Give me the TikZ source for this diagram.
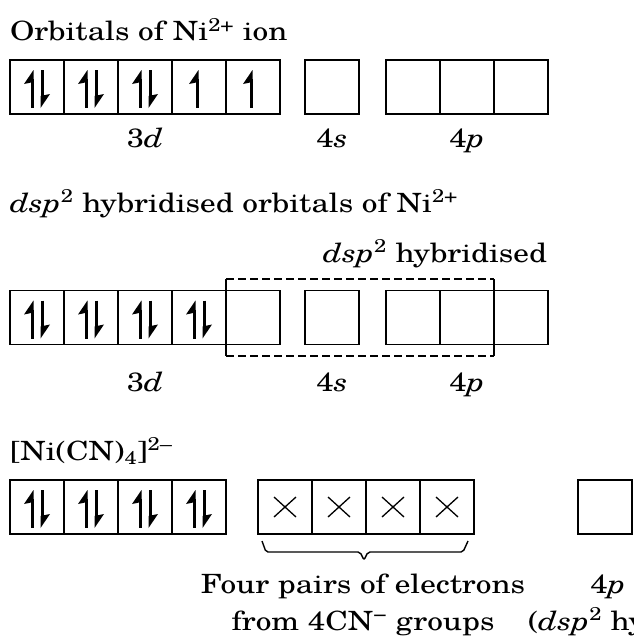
\documentclass[tikz,border=0pt]{standalone}
\usepackage{fontspec}
\setmainfont{TeX Gyre Schola}[FakeStretch=1.18]
\begin{document}
\begin{tikzpicture}[x=1pt,y=-1pt,
  orb/.style={draw, line width=1.5pt, minimum width=54pt, minimum height=54pt, inner sep=0pt, outer sep=0pt},
  lbl/.style={inner sep=0pt, outer sep=0pt, font=\fontsize{26.5}{31}\selectfont},
  uph/.pic={\draw[line width=3pt] (0,-9) -- (0,20); \fill (1.5,-18) -- (1.5,-6) -- (-8,-4) -- cycle;},
  dnh/.pic={\draw[line width=3pt] (0,-18) -- (0,11); \fill (-1.5,20) -- (-1.5,8) -- (8,6) -- cycle;},
  xm/.style={line width=1.3pt},
  dashbox/.style={line width=1.3pt, dash pattern=on 8pt off 4pt},
  brace/.style={line width=1.4pt, rounded corners=2pt}
]
\useasboundingbox (0,0) rectangle (633,642);
\clip (0,0) rectangle (633,642);

% ---------- Row 1 ----------
\node[lbl, anchor=base west] (t1) at (10,41) {Orbitals of Ni\textsuperscript{2+} ion};
\foreach \i/\cx in {1/37,2/91,3/145,4/199,5/253}{\node[orb] (ad\i) at (\cx,87) {};}
\node[orb] (as) at (332,87) {};
\foreach \i/\cx in {1/413,2/467,3/521}{\node[orb] (ap\i) at (\cx,87) {};}
\foreach \cx in {37,91,145}{\pic at (\cx-5,88) {uph}; \pic at (\cx+5,88) {dnh};}
\foreach \cx in {199,253}{\pic at (\cx-2,88) {uph};}
\node[lbl, anchor=base] (l1d) at (145,147) {3\textit{d}};
\node[lbl, anchor=base] (l1s) at (332,147) {4\textit{s}};
\node[lbl, anchor=base] (l1p) at (467,147) {4\textit{p}};

% ---------- Row 2 ----------
\node[lbl, anchor=base west] (t2) at (10,212) {\textit{dsp}\textsuperscript{2} hybridised orbitals of Ni\textsuperscript{2+}};
\node[lbl, anchor=base east] (h2) at (547,262) {\textit{dsp}\textsuperscript{2} hybridised};
\foreach \i/\cx in {1/37,2/91,3/145,4/199,5/253}{\node[orb] (bd\i) at (\cx,317.5) {};}
\node[orb] (bs) at (332,317.5) {};
\foreach \i/\cx in {1/413,2/467,3/521}{\node[orb] (bp\i) at (\cx,317.5) {};}
\foreach \cx in {37,91,145,199}{\pic at (\cx-5,318.5) {uph}; \pic at (\cx+5,318.5) {dnh};}
\coordinate (dA) at (226,279);
\coordinate (dB) at (494,279);
\coordinate (dC) at (494,356);
\coordinate (dD) at (226,356);
\draw[dashbox] (dA) -- (dB);
\draw[dashbox] (dD) -- (dC);
\draw[line width=1.3pt] (dA) -- (dD);
\draw[line width=1.3pt] (dB) -- (dC);
\node[lbl, anchor=base] (l2d) at (145,391) {3\textit{d}};
\node[lbl, anchor=base] (l2s) at (332,391) {4\textit{s}};
\node[lbl, anchor=base] (l2p) at (467,391) {4\textit{p}};

% ---------- Row 3 ----------
\node[lbl, anchor=base west] (t3) at (10,460) {[Ni(CN)\textsubscript{4}]\textsuperscript{2–}};
\foreach \i/\cx in {1/37,2/91,3/145,4/199}{\node[orb] (cd\i) at (\cx,507) {};}
\foreach \cx in {37,91,145,199}{\pic at (\cx-5,508) {uph}; \pic at (\cx+5,508) {dnh};}
\foreach \i/\cx in {1/285,2/339,3/393,4/447}{
  \node[orb] (cx\i) at (\cx,507) {};
  \draw[xm] (\cx-11,497) -- (\cx+11,517) (\cx-11,517) -- (\cx+11,497);
}
\node[orb] (cp) at (605,507) {};
\coordinate (b1) at (262,541);
\coordinate (b2) at (266,552);
\coordinate (b3) at (360,552);
\coordinate (b4) at (364,560);
\coordinate (b5) at (368,552);
\coordinate (b6) at (463,552);
\coordinate (b7) at (468,541);
\draw[brace] (b1) -- (b2) -- (b3) -- (b4) -- (b5) -- (b6) -- (b7);
\node[lbl, anchor=base] (f1) at (363,593) {Four pairs of electrons};
\node[lbl, anchor=base] (f2) at (363,630) {from 4CN\textsuperscript{−} groups};
\node[lbl, anchor=base] (p3) at (608,593) {4\textit{p}};
\node[lbl, anchor=base west] (p3b) at (528,630) {(\textit{dsp}\textsuperscript{2} hybridised)};
\end{tikzpicture}
\end{document}
